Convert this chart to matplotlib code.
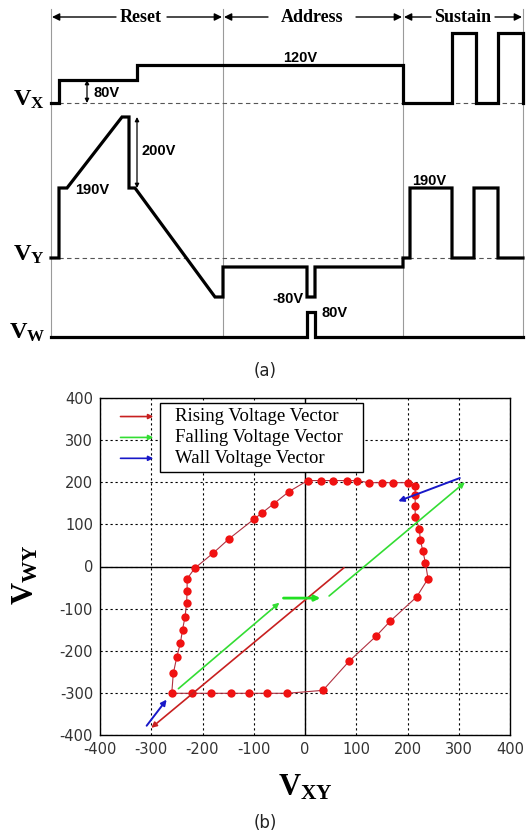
import numpy as np
import matplotlib
matplotlib.use('Agg')
from matplotlib import pyplot as plt
from matplotlib.patches import Rectangle

plt.rcParams['mathtext.fontset'] = 'custom'
plt.rcParams['mathtext.rm'] = 'Liberation Serif'
plt.rcParams['mathtext.bf'] = 'Liberation Serif:bold'
plt.rcParams['mathtext.it'] = 'Liberation Serif:italic'
plt.rcParams['axes.unicode_minus'] = False

# ---- (a) driving waveforms: time breakpoints and drawn levels (schematic units) ----
phase_edges = [51, 223, 403, 523]
phase_names = ['Reset', 'Address', 'Sustain']

vx_t = [51, 59, 59, 137, 137, 403, 403, 452, 452, 476, 476, 498, 498, 523, 523]
vx_v = [0, 0, 23, 23, 38, 38, 0, 0, 70, 70, 0, 0, 70, 70, 0]

vy_t = [51, 59, 59, 67, 122, 129, 129, 135, 215, 223, 223, 307, 307, 315, 315,
        403, 403, 410, 410, 452, 452, 474, 474, 498, 498, 523]
vy_v = [0, 0, 70, 70, 141, 141, 70, 70, -39, -39, -9, -9, -39, -39, -9,
        -9, 0, 0, 70, 70, 0, 0, 70, 70, 0, 0]

vw_t = [51, 307, 307, 315, 315, 523]
vw_v = [0, 0, 25, 25, 0, 0]

base_x, base_y, base_w = 103, 258, 337

# ---- (b) voltage loop data ----
loop_x = [5, 31, 55, 81, 102, 124, 150, 172, 201,
          215, 215, 215, 215, 223, 225, 230, 235, 240, 218,
          166, 139, 86, 35,
          -35, -74, -110, -145, -183, -220, -260,
          -257, -250, -243, -239, -234, -231, -230, -230, -215,
          -179, -148, -100, -83, -61, -31, 5]
loop_y = [204, 204, 204, 204, 204, 199, 199, 199, 199,
          191, 169, 143, 117, 90, 64, 36, 9, -29, -72,
          -130, -165, -225, -294,
          -301, -301, -301, -301, -301, -301, -301,
          -254, -214, -181, -150, -119, -86, -57, -29, -4,
          32, 66, 112, 128, 149, 178, 204]

vec_start = [(76, -3), (-42, -75), (-247, -290), (47, -70), (302, 210), (-309, -378)]
vec_end = [(-300, -383), (30, -75), (-50, -86), (312, 200), (182, 155), (-270, -316)]
vec_color = ['#c82020', '#22e022', '#33dd33', '#33dd33', '#1818c8', '#1818c8']
vec_lw = [1.2, 2.0, 1.2, 1.2, 1.4, 1.4]

legend_labels = ['Rising Voltage Vector', 'Falling Voltage Vector', 'Wall Voltage Vector']
legend_colors = ['#c82020', '#33dd33', '#1818c8']

ticks = [-400, -300, -200, -100, 0, 100, 200, 300, 400]

fig = plt.figure(figsize=(5.26, 8.34), dpi=100)

# ================= (a) =================
ax1 = fig.add_axes([0, 1 - 380 / 834, 1, 380 / 834])
ax1.set_xlim(0, 526)
ax1.set_ylim(380, 0)
ax1.axis('off')

for x in phase_edges:
    ax1.plot([x, x], [9, 337], color='#9a9a9a', lw=0.8)

ax1.plot([51, 523], [base_x, base_x], color='#555555', lw=0.8, ls=(0, (4, 3)))
ax1.plot([51, 523], [base_y, base_y], color='#555555', lw=0.8, ls=(0, (4, 3)))

ax1.plot(vx_t, [base_x - v for v in vx_v], color='k', lw=2.3, solid_joinstyle='miter')
ax1.plot(vy_t, [base_y - v for v in vy_v], color='k', lw=2.3, solid_joinstyle='miter')
ax1.plot(vw_t, [base_w - v for v in vw_v], color='k', lw=2.3, solid_joinstyle='miter')

hdr = dict(fontsize=13, fontweight='bold', family='Liberation Serif', ha='center', va='center')
arr = dict(arrowstyle='-|>', color='k', lw=1.0, mutation_scale=11, shrinkA=0, shrinkB=0)
ax1.text(141, 17, 'Reset', **hdr)
ax1.annotate('', xy=(52, 17), xytext=(116, 17), arrowprops=arr)
ax1.annotate('', xy=(222, 17), xytext=(167, 17), arrowprops=arr)
ax1.text(312, 17, 'Address', **hdr)
ax1.annotate('', xy=(224, 17), xytext=(268, 17), arrowprops=arr)
ax1.annotate('', xy=(402, 17), xytext=(356, 17), arrowprops=arr)
ax1.text(463, 17, 'Sustain', **hdr)
ax1.annotate('', xy=(404, 17), xytext=(431, 17), arrowprops=arr)
ax1.annotate('', xy=(522, 17), xytext=(495, 17), arrowprops=arr)

dbl = dict(arrowstyle='<|-|>', color='k', lw=0.9, mutation_scale=6, shrinkA=0, shrinkB=0)
ax1.annotate('', xy=(87, 80), xytext=(87, base_x), arrowprops=dbl)
ax1.annotate('', xy=(137, 117), xytext=(137, 188), arrowprops=dbl)

ann = dict(fontsize=10.5, fontweight='bold', family='Liberation Sans', va='center', ha='left')
ax1.text(93, 93, '80V', **ann)
ax1.text(283, 58, '120V', **ann)
ax1.text(75, 190, '190V', **ann)
ax1.text(142, 151, '200V', **ann)
ax1.text(412, 181, '190V', **ann)
ax1.text(272, 299, '-80V', **ann)
ax1.text(321, 313, '80V', **ann)

lab = dict(fontsize=17.5, ha='right', va='baseline')
ax1.text(45, 106, r'$\mathbf{V}_{\mathbf{X}}$', **lab)
ax1.text(45, 261, r'$\mathbf{V}_{\mathbf{Y}}$', **lab)
ax1.text(45, 339, r'$\mathbf{V}_{\mathbf{W}}$', **lab)
ax1.text(265, 371, '(a)', fontsize=12, family='DejaVu Sans', ha='center', va='center',
         color='#222222')

# ================= (b) =================
ax2 = fig.add_axes([100 / 526, 1 - 735 / 834, 410 / 526, 337 / 834])
ax2.set_xlim(-400, 400)
ax2.set_ylim(-400, 400)
ax2.set_xticks(ticks)
ax2.set_yticks(ticks)
ax2.grid(True, linestyle=(0, (2, 2.5)), color='k', lw=0.8)
ax2.axhline(0, color='k', lw=1.0)
ax2.axvline(0, color='k', lw=1.0)
ax2.tick_params(length=0, labelsize=10.5, colors='#333333', pad=5)
for s in ax2.spines.values():
    s.set_linewidth(1.0)

ax2.plot(loop_x, loop_y, color='#b03040', lw=0.8, zorder=3)
ax2.plot(loop_x[:-1], loop_y[:-1], 'o', color='#f01212', ms=6, mec='none', zorder=4)

for (x0, y0), (x1, y1), c, w in zip(vec_start, vec_end, vec_color, vec_lw):
    ax2.annotate('', xy=(x1, y1), xytext=(x0, y0),
                 arrowprops=dict(arrowstyle='-|>', color=c, lw=w, mutation_scale=8,
                                 shrinkA=0, shrinkB=0), zorder=5)

# legend drawn by hand: samples sit to the left of the box
ax2.add_patch(Rectangle((0.146, 0.780), 0.495, 0.205, transform=ax2.transAxes,
                        facecolor='white', edgecolor='k', lw=1.0, zorder=6))
for i, (txt, c) in enumerate(zip(legend_labels, legend_colors)):
    yy = 0.945 - i * 0.062
    ax2.annotate('', xy=(0.13, yy), xytext=(0.05, yy), xycoords='axes fraction',
                 arrowprops=dict(arrowstyle='-|>', color=c, lw=1.2, mutation_scale=7,
                                 shrinkA=0, shrinkB=0), zorder=7)
    ax2.text(0.183, yy, txt, transform=ax2.transAxes, fontsize=13.5,
             family='Liberation Serif', va='center', ha='left', zorder=7)

fig.text(25 / 526, 1 - 575 / 834, r'$\mathbf{V}_{\mathbf{WY}}$', fontsize=22,
         rotation=90, ha='center', va='center')
fig.text(305 / 526, 1 - 787 / 834, r'$\mathbf{V}_{\mathbf{XY}}$', fontsize=22,
         ha='center', va='center')
fig.text(265 / 526, 1 - 823 / 834, '(b)', fontsize=12, family='DejaVu Sans',
         ha='center', va='center', color='#222222')

fig.savefig('out.png', dpi=100)
